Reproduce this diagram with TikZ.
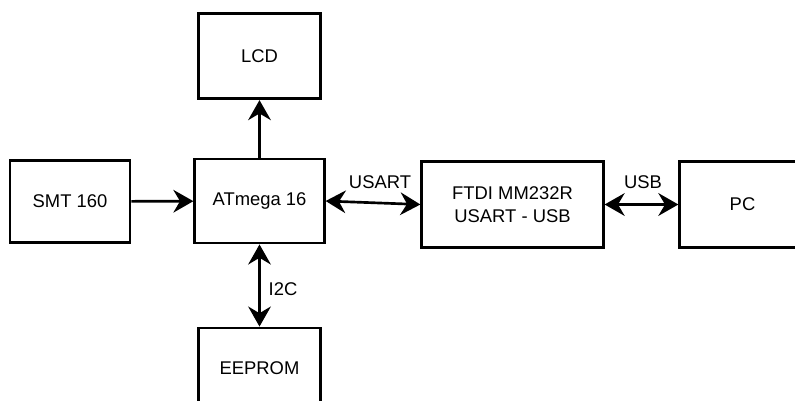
\documentclass[tikz,border=0pt]{standalone}
\usepackage{fontspec}
\setmainfont{Liberation Sans}
\usetikzlibrary{arrows.meta}

\begin{document}
\begin{tikzpicture}[
		x=0.75pt, y=-0.75pt,
		font=\fontsize{13.8}{17}\selectfont,
		block/.style={rectangle, draw=black, line width=2.2pt, fill=white},
		link/.style={line width=2pt, -{Stealth[length=15pt, width=17pt, inset=5pt]}},
		duplex/.style={line width=2pt, {Stealth[length=15pt, width=17pt, inset=5pt]}-{Stealth[length=15pt, width=17pt, inset=5pt]}}
	]
		\clip (0,0) rectangle (795,400);
		\fill[white] (0,0) rectangle (795,400);

		\node[block, minimum width=92pt, minimum height=64pt] (LCD) at (259.5,56) {LCD};
		\node[block, minimum width=90pt, minimum height=62pt] (SMT) at (70,201.5) {SMT 160};
		\node[block, minimum width=97pt, minimum height=63pt] (ATM) at (259.5,201) {ATmega 16};
		\node[block, minimum width=136pt, minimum height=64pt, align=center] (FTDI) at (512.5,204.5) {FTDI MM232R\\USART - USB};
		\node[block, minimum width=94pt, minimum height=64pt] (PC) at (742.5,204.5) {PC};
		\node[block, minimum width=92pt, minimum height=60pt] (EEP) at (259.5,368) {EEPROM};

		\draw[link] (SMT) -- (ATM);
		\draw[link] (ATM) -- (LCD);
		\draw[duplex] (ATM.east) -- (FTDI.west);
		\draw[duplex] (FTDI) -- (PC);
		\draw[duplex] (ATM) -- (EEP);

		\node (usart) at (380,182) {USART};
		\node (usb) at (643,182) {USB};
		\node (itwoc) at (283,289) {I2C};
	\end{tikzpicture}
\end{document}
